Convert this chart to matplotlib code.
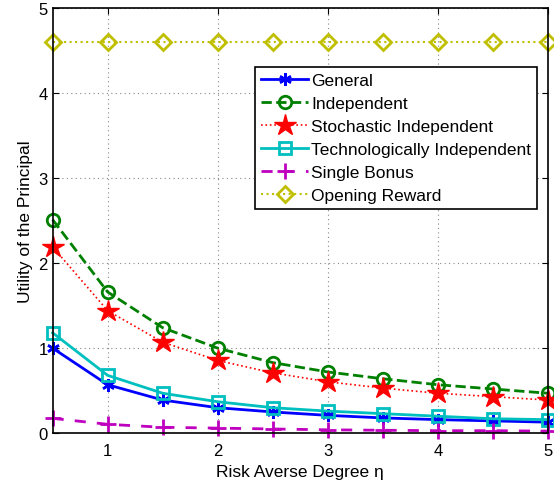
import matplotlib
matplotlib.use("Agg")
import matplotlib.pyplot as plt
import numpy as np

eta = [0.5, 1.0, 1.5, 2.0, 2.5, 3.0, 3.5, 4.0, 4.5, 5.0]
general = [1.00, 0.57, 0.39, 0.30, 0.25, 0.21, 0.18, 0.16, 0.145, 0.13]
independent = [2.51, 1.66, 1.24, 1.00, 0.83, 0.72, 0.64, 0.57, 0.52, 0.47]
stochastic = [2.19, 1.44, 1.07, 0.855, 0.71, 0.605, 0.53, 0.47, 0.43, 0.39]
technological = [1.18, 0.68, 0.47, 0.37, 0.30, 0.26, 0.23, 0.20, 0.17, 0.16]
single_bonus = [0.175, 0.105, 0.07, 0.06, 0.05, 0.04, 0.035, 0.03, 0.03, 0.025]
opening = [4.6] * 10

plt.rcParams["font.family"] = ["Liberation Sans", "DejaVu Sans"]

fig = plt.figure(figsize=(5.54, 4.89), dpi=100)
ax = fig.add_axes([0.095, 0.112, 0.894, 0.87])

ax.plot(eta, general, "-", color="#0000ff", lw=2, marker=(6, 2, 0), ms=9, mew=1.8, label="General", clip_on=False)
ax.plot(eta, independent, "--", color="#008000", lw=2, marker="o", ms=9, mfc="none", mew=2, label="Independent", clip_on=False)
ax.plot(eta, stochastic, ":", color="#ff0000", lw=1.2, marker="*", ms=16, label="Stochastic Independent", clip_on=False)
ax.plot(eta, technological, "-", color="#00bfbf", lw=2, marker="s", ms=8, mfc="none", mew=2, label="Technologically Independent", clip_on=False)
ax.plot(eta, single_bonus, "--", color="#bf00bf", lw=2, marker="+", ms=11, mew=2, label="Single Bonus", dashes=(4, 4), clip_on=False)
ax.plot(eta, opening, ":", color="#bfbf00", lw=1.5, marker="D", ms=8, mfc="none", mew=2, label="Opening Reward", clip_on=False)

ax.set_xlim(0.5, 5)
ax.set_ylim(0, 5)
ax.set_xticks([1, 2, 3, 4, 5])
ax.set_yticks([0, 1, 2, 3, 4, 5])
ax.grid(True, linestyle=(0, (1, 3)), color="#888888", lw=0.8)
ax.tick_params(direction="in", labelsize=12, right=True, top=True, length=4)
ax.tick_params(axis="x", pad=7)
for s in ax.spines.values():
    s.set_linewidth(1.2)

ax.set_xlabel("Risk Averse Degree η", fontsize=12.5, labelpad=4)
ax.set_ylabel("Utility of the Principal", fontsize=12.5, labelpad=4)

leg = ax.legend(loc="upper right", bbox_to_anchor=(0.978, 0.861), fontsize=12.5, fancybox=False,
                framealpha=1, edgecolor="black", borderpad=0.35, labelspacing=0.45,
                handlelength=2.7, handletextpad=0.15, borderaxespad=0)
leg.get_frame().set_linewidth(1.2)

fig.savefig("out.png", dpi=100)
